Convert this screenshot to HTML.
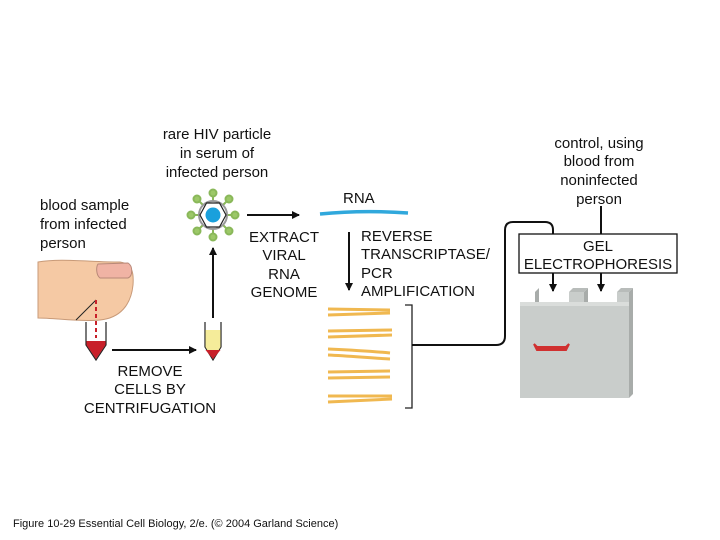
<!DOCTYPE html>
<html><head><meta charset="utf-8"><style>
html,body{margin:0;padding:0;background:#fff;}
svg{display:block;}
text{font-family:"Liberation Sans",sans-serif;fill:#111;}
</style></head><body>
<svg width="720" height="540" viewBox="0 0 720 540" xmlns="http://www.w3.org/2000/svg">
<defs>
<marker id="ah" markerWidth="8" markerHeight="8" refX="7" refY="4" orient="auto" markerUnits="userSpaceOnUse">
<path d="M0,0 L8,4 L0,8 Z" fill="#111"/></marker>
</defs>
<g font-size="15" text-anchor="middle">
<text x="217" y="139">rare HIV particle</text>
<text x="217" y="158">in serum of</text>
<text x="217" y="177">infected person</text>
<text x="599" y="148">control, using</text>
<text x="599" y="166">blood from</text>
<text x="599" y="185">noninfected</text>
<text x="599" y="204">person</text>
<text x="150" y="376">REMOVE</text>
<text x="150" y="394">CELLS BY</text>
<text x="150" y="413">CENTRIFUGATION</text>
</g>
<g font-size="15">
<text x="40" y="210">blood sample</text>
<text x="40" y="229">from infected</text>
<text x="40" y="248">person</text>
</g>
<path d="M38,262 C60,258 90,262 120,262 C132,264 134,272 133,285 C131,305 120,318 100,320 C80,322 55,318 38,318 Z" fill="#f5c9a4" stroke="#c89a78" stroke-width="1"/>
<path d="M98,264 L128,263 C133,266 133,276 128,278 L100,278 C96,275 96,267 98,264Z" fill="#f0b3a4" stroke="#b88878" stroke-width="1"/>
<line x1="96" y1="300" x2="76" y2="320" stroke="#222" stroke-width="1"/>
<line x1="96" y1="300" x2="96" y2="338" stroke="#c8202a" stroke-width="2" stroke-dasharray="4,3"/>
<path d="M86,322 L86,345 L96,360 L106,345 L106,322" fill="none" stroke="#222" stroke-width="1.2"/>
<path d="M86.5,341 L105.5,341 L105.5,345 L96,359 L86.5,345Z" fill="#c8202a"/>
<line x1="112" y1="350" x2="196" y2="350" stroke="#111" stroke-width="2" marker-end="url(#ah)"/>
<path d="M205,322 L205,347 L213,360 L221,347 L221,322" fill="none" stroke="#222" stroke-width="1.2"/>
<path d="M205.5,330 L220.5,330 L220.5,347 L213,359 L205.5,347Z" fill="#f5ec9a"/>
<path d="M205.5,350 L220.5,350 L213,359Z" fill="#c8202a"/>
<line x1="213" y1="318" x2="213" y2="248" stroke="#111" stroke-width="2" marker-end="url(#ah)"/>
<g transform="translate(213,215)">
<g stroke="#8ab85a" stroke-width="2" fill="#9cc868">
<line x1="0" y1="-22" x2="0" y2="22"/><line x1="-22" y1="0" x2="22" y2="0"/>
<line x1="-16" y1="-16" x2="16" y2="16"/><line x1="-16" y1="16" x2="16" y2="-16"/>
<circle cx="0" cy="-22" r="3.5"/><circle cx="0" cy="22" r="3.5"/><circle cx="-22" cy="0" r="3.5"/><circle cx="22" cy="0" r="3.5"/>
<circle cx="-16" cy="-16" r="3.5"/><circle cx="16" cy="16" r="3.5"/><circle cx="-16" cy="16" r="3.5"/><circle cx="16" cy="-16" r="3.5"/>
</g>
<circle r="14" fill="#fff" stroke="#999" stroke-width="2"/>
<path d="M-13,0 L-6.5,-12 L6.5,-12 L13,0 L6.5,12 L-6.5,12Z" fill="#fff" stroke="#222" stroke-width="1.2"/>
<circle r="7.5" fill="#1aa0dc"/>
</g>
<line x1="247" y1="215" x2="299" y2="215" stroke="#111" stroke-width="2" marker-end="url(#ah)"/>
<g font-size="15" text-anchor="middle">
<text x="284" y="242">EXTRACT</text>
<text x="284" y="260">VIRAL</text>
<text x="284" y="279">RNA</text>
<text x="284" y="297">GENOME</text>
</g>
<text x="343" y="203" font-size="15">RNA</text>
<path d="M320,214 C350,211 380,211 408,213" stroke="#30a8dc" stroke-width="3.5" fill="none"/>
<line x1="349" y1="232" x2="349" y2="290" stroke="#111" stroke-width="2" marker-end="url(#ah)"/>
<g font-size="15">
<text x="361" y="241">REVERSE</text>
<text x="361" y="259">TRANSCRIPTASE/</text>
<text x="361" y="278">PCR</text>
<text x="361" y="296">AMPLIFICATION</text>
</g>
<g stroke="#f0b850" stroke-width="3" fill="none">
<path d="M328,309 L390,310"/><path d="M328,315 L390,313"/>
<path d="M328,331 L392,330"/><path d="M328,337 L392,335"/>
<path d="M328,349 C350,350 370,351 390,353"/><path d="M328,355 C350,356 370,358 390,359"/>
<path d="M328,372 L390,371"/><path d="M328,378 L390,377"/>
<path d="M328,396 L392,396"/><path d="M328,402 L392,399"/>
</g>
<path d="M405,305 L412,305 L412,408 L405,408" fill="none" stroke="#222" stroke-width="1.3"/>
<path d="M412,345 L496,345 Q505,345 505,336 L505,230 Q505,222 513,222 L545,222 Q553,222 553,230 L553,234" fill="none" stroke="#111" stroke-width="2"/>
<line x1="601" y1="206" x2="601" y2="234" stroke="#111" stroke-width="2"/>
<rect x="519" y="234" width="158" height="39" fill="#fff" stroke="#111" stroke-width="1.3"/>
<g font-size="15" text-anchor="middle">
<text x="598" y="251">GEL</text>
<text x="598" y="269">ELECTROPHORESIS</text>
</g>
<line x1="553" y1="273" x2="553" y2="291" stroke="#111" stroke-width="2" marker-end="url(#ah)"/>
<line x1="601" y1="273" x2="601" y2="291" stroke="#111" stroke-width="2" marker-end="url(#ah)"/>
<!-- gel -->
<rect x="520" y="302" width="109" height="96" fill="#c9cdcb"/>
<path d="M520,302 L629,302 L629,306 L520,306Z" fill="#dadddb"/>
<path d="M520,302 L535,302 L538,290 L538,302Z" fill="#c9cdcb"/>
<path d="M535,302 L535,292 L539,288 L539,302Z" fill="#a8acaa"/>
<path d="M569,302 L569,292 L584,292 L584,302Z" fill="#c9cdcb"/>
<path d="M584,302 L584,292 L588,288 L588,302Z" fill="#a8acaa"/>
<path d="M569,292 L573,288 L588,288 L584,292Z" fill="#b8bcba"/>
<path d="M617,302 L617,292 L629,292 L629,302Z" fill="#c9cdcb"/>
<path d="M617,292 L621,288 L633,288 L629,292Z" fill="#b8bcba"/>
<path d="M629,292 L633,288 L633,394 L629,398Z" fill="#a8acaa"/>
<path d="M534,344 L537,350 L566,350 L569,344 L566,347 L537,347Z" fill="#d03030" stroke="#d03030" stroke-width="2"/>
<text x="13" y="527" font-size="11" fill="#222">Figure 10-29  Essential Cell Biology, 2/e. (© 2004 Garland Science)</text>
</svg>
</body></html>
